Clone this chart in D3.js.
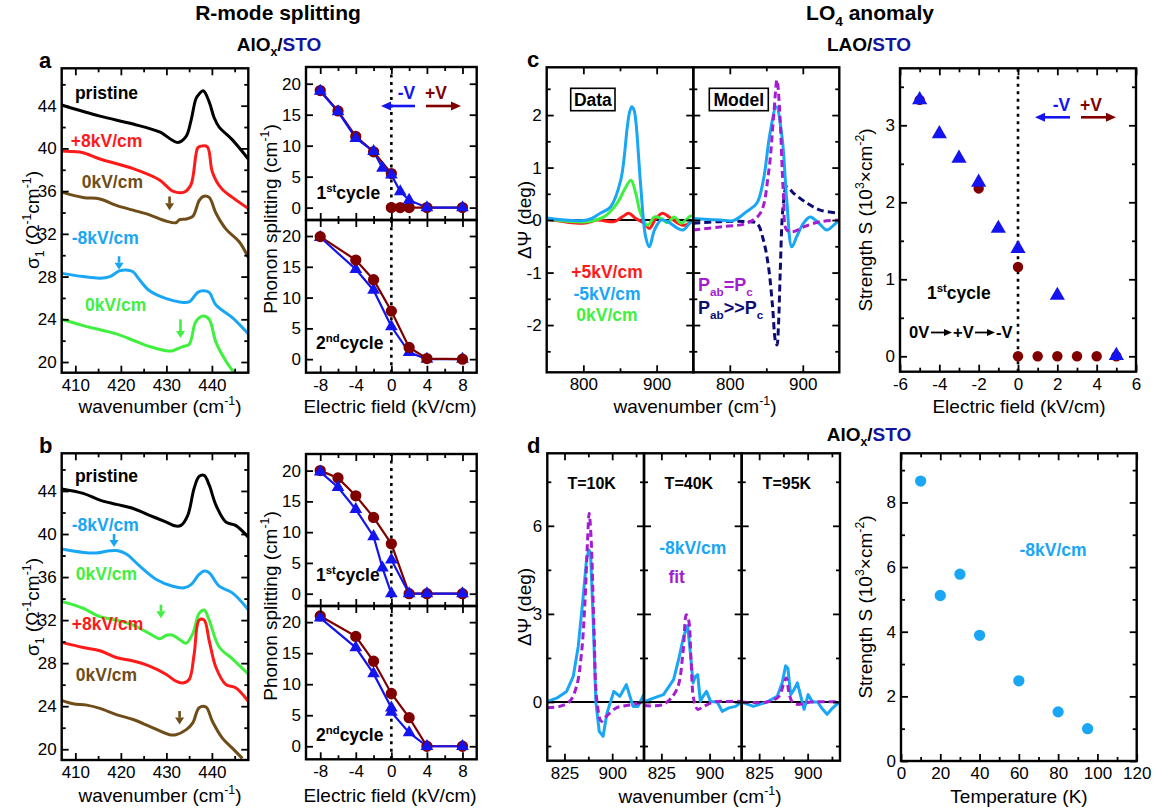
<!DOCTYPE html>
<html>
<head>
<meta charset="utf-8">
<script src="https://cdn.jsdelivr.net/npm/d3@7"></script>
<style>
  body { margin: 0; background: #fff; }
  svg { display: block; }
</style>
</head>
<body>
<script>
// ---------------- values ----------------

// panel a: sigma_1 spectra, [wavenumber, sigma]
const aPristine = [[407,44.06],[415.4,43.02],[422.7,42.28],[428.5,41.54],[432.5,40.56],[434.3,41.1],[435.4,42.58],[436.5,44.65],[437.2,45.1],[438.1,45.39],[439.4,44.36],[440.5,42.87],[441.6,41.99],[444.5,40.8],[448,39.01]];
const aPlus8 = [[407,39.76],[409.5,39.7],[411.7,39.6],[415.4,39.01],[422.7,38.11],[428.5,37.05],[431.4,36.0],[433.9,35.91],[435.4,36.6],[436.9,40.06],[437.6,40.21],[439,40.15],[440.1,37.8],[442,36.3],[444.5,35.41],[448,34.37]];
const aZeroA = [[407,35.91],[411.7,35.41],[415.4,35.26],[419,34.67],[422.7,34.22],[426.3,33.78],[430,33.19],[432.1,33.04],[432.9,33.33],[434.3,33.39],[435.8,33.63],[437.2,35.11],[438.1,35.5],[439.4,35.41],[440.9,33.93],[443.1,32.44],[446,31.26],[448,29.78]];
const aMinus8 = [[407,28.3],[411.7,28.0],[415.4,27.85],[417.6,28.0],[419.7,28.53],[421.6,28.59],[422.7,28.44],[424.1,27.7],[426.3,26.67],[430,25.93],[432.9,25.63],[435,25.63],[436.9,26.52],[438.1,26.67],[439.4,26.52],[440.9,25.33],[444.5,24.15],[448,22.63]];
const aZeroB = [[407,24.0],[411.7,23.41],[415.4,23.02],[419,22.63],[422.7,22.04],[426.3,21.45],[430,21.06],[431.4,21.06],[433.6,21.45],[435,21.65],[436.5,23.8],[438.1,24.3],[439.4,24.0],[440.9,21.84],[443.1,20.08],[444.9,19.0]];
const aNames = ["pristine", "+8kV/cm", "0kV/cm", "-8kV/cm", "0kV/cm"];
const aArrowNu = [430.7, 419.6, 433.1];

// panel b: sigma_1 spectra
const bPristine = [[407,44.19],[411.7,43.78],[415.4,43.15],[419,42.75],[422.7,42.37],[426.3,41.74],[430,41.1],[432.1,40.74],[433.2,40.8],[434.7,41.74],[436.1,44.25],[437.2,45.35],[438.3,45.44],[439.4,44.56],[440.9,42.68],[443.1,41.1],[445.2,40.8],[448,39.7]];
const bMinus8 = [[407,38.6],[411.7,38.29],[414.6,38.23],[417.6,38.45],[419.4,38.45],[421.2,38.14],[424.1,37.04],[427.8,35.78],[431.4,35.15],[433.9,35.0],[435.4,35.3],[437.2,36.25],[438.3,36.56],[439.4,36.4],[441.6,35.15],[444.5,34.53],[448,32.96]];
const bZeroA = [[407,33.74],[411.7,33.1],[415.4,32.32],[419,32.0],[422.7,31.53],[426.3,30.75],[428.5,30.27],[430,30.59],[431.4,30.59],[433.2,30.1],[434.3,29.85],[435.8,30.75],[437.2,32.63],[438.3,32.94],[439.4,32.0],[441.6,29.5],[444.5,28.4],[448,26.99]];
const bPlus8 = [[407,29.93],[411.7,29.46],[415.4,29.15],[419,28.52],[422.7,28.2],[426.3,27.73],[430,26.95],[432.1,26.32],[433.6,26.16],[435,26.48],[436.1,28.83],[437.2,32.0],[438.3,32.0],[439.4,30.1],[440.9,27.6],[443.1,26.0],[445.2,25.72],[448,24.46]];
const bZeroB = [[407,24.54],[409.5,24.23],[412.5,24.1],[415.4,23.8],[419,23.22],[422.7,22.76],[426.3,22.13],[430.7,21.35],[432.1,21.35],[434.3,21.8],[435.8,22.45],[437.2,23.86],[438.7,23.92],[440.1,22.6],[442.3,21.03],[444.5,20.1],[446.7,19.15]];
const bNames = ["pristine", "-8kV/cm", "0kV/cm", "+8kV/cm", "0kV/cm"];
const bArrowNu = [418.5, 428.8, 432.9];

// phonon splitting vs field (kV/cm, cm-1)
const aR1Field = [-8,-6,-4,-2,-1,0,1,2,4,8];
const aR1Minus = [18.8,15.5,11.2,9.1,6.4,5.3,2.6,1.2,0,0];
const aR1PlusFieldA = [0,1,2,4,8];
const aR1PlusA = [0,0,0,0,0];
const aR1PlusFieldB = [-8,-6,-4,-2,0];
const aR1PlusB = [18.9,15.6,11.5,9.0,5.5];
const aR2Field = [-8,-4,-2,0,2,4,8];
const aR2Plus = [19.9,16.1,12.9,7.8,1.9,0.1,0];
const aR2Minus = [19.8,14.6,11.2,5.3,1.1,0,0];

const bR1PlusField = [-8,-6,-4,-2,0,2,4,8];
const bR1Plus = [20,18.8,15.9,12.4,8.1,0,0,0];
const bR1MinusFieldA = [-8,-6,-4,-2,-1,0];
const bR1MinusA = [19.8,17.3,13.7,9.3,4.2,0];
const bR1MinusFieldB = [0,2,4,8];
const bR1MinusB = [5.5,0,0,0];
const bR2Field = [-8,-4,-2,0,2,4,8];
const bR2Plus = [21,17.7,13.7,8.5,4.6,0,0];
const bR2MinusField = [-8,-4,-2,0,0,2,4,8];
const bR2Minus = [20.7,15.9,11.7,6.2,5.5,2.2,0,0];

// panel c: delta Psi spectra (deg)
const cDataPlus5 = [[750,0.02],[800,-0.06],[819,0],[842,-0.03],[853,0.06],[862,0.13],[871.5,0.03],[883,-0.06],[890,-0.16],[899,0.03],[908,0.13],[917,0.06],[929,-0.06],[938,-0.1],[950,0]];
const cDataMinus5 = [[750,0.04],[805,0],[823,0.13],[837,0.25],[851,0.76],[860,1.78],[863,2.05],[866,2.16],[869,2.1],[871.5,1.9],[878,0.7],[885,-0.32],[890,-0.51],[897,-0.19],[906,0],[915,-0.03],[929,-0.16],[936,-0.19],[945,-0.06],[950,0]];
const cDataZero = [[750,0.02],[805,-0.03],[828,0.06],[846,0.32],[858,0.63],[865,0.76],[871.5,0.51],[878,0.13],[887.6,-0.1],[897,0.06],[906,0.03],[915,-0.05],[924,0.06],[933.5,-0.06],[947,0.08],[950,0.05]];
const cModelMeas = [[750,0.03],[786.7,0],[805,-0.01],[823,0.16],[837,0.32],[846,0.76],[855,1.65],[863.7,2.16],[871.5,1.59],[878,0.38],[885,-0.51],[891.5,-0.32],[901,-0.06],[910,0.06],[922,-0.06],[933,-0.19],[942,-0.1],[950,0]];
const cModelEqual = [[750,-0.19],[786.7,-0.13],[823,-0.06],[841.7,0.13],[853,0.89],[860,1.97],[864.6,2.67],[868,2.16],[873.7,0.44],[878,-0.19],[887.5,-0.22],[901,-0.13],[924,-0.03],[950,0]];
const cModelBig = [[750,-0.06],[786.7,-0.03],[823,-0.03],[837,-0.06],[846,-0.38],[853,-0.89],[858.6,-1.65],[862.3,-2.29],[864.6,-2.38],[866.8,-1.97],[869,-1.02],[873,0.25],[878,0.63],[887.5,0.51],[906,0.32],[924,0.19],[950,0.13]];

// panel c: oscillator strength vs field (10^3 cm-2)
const cFieldTri = [-5,-4,-3,-2,-1,0,2,5];
const cStrengthTri = [3.33,2.89,2.57,2.26,1.66,1.40,0.79,0.01];
const cFieldCirc = [-5,-2,0,0,1,2,3,4,5];
const cStrengthCirc = [3.33,2.18,1.16,0,0,0,0,0,0];

// panel d: delta Psi at three temperatures
const dTempNames = ["T=10K", "T=40K", "T=95K"];
const d10Data = [[798,0.02],[812.7,0.13],[828.3,0.36],[838.8,0.87],[846.6,1.89],[854.4,3.59],[859.6,4.84],[863.3,5.18],[866,5.07],[870.1,2.8],[874.3,0],[879.6,-1.0],[885.7,-1.17],[891.9,-0.37],[902.6,0.36],[911.9,0.19],[922.2,0.59],[932.8,-0.15],[940.6,-0.15],[949.6,0.25]];
const d10Fit = [[798,-0.2],[817.6,-0.15],[833.2,0.02],[844,0.53],[851.8,1.67],[857.1,3.37],[861.3,5.52],[863.8,6.43],[867,5.52],[871.3,2.57],[876.2,0],[883.1,-0.66],[890.9,-0.49],[906.6,-0.2],[927.6,-0.1],[949.6,0]];
const d40Data = [[798,0],[812.7,0.13],[828.3,0.25],[844,0.76],[851.8,1.44],[859.6,2.23],[865.9,2.6],[870.1,1.67],[874.3,0.65],[877.9,0.87],[881.5,0.93],[885.7,0.02],[889.9,0.19],[895.2,0.36],[901.5,0.02],[911.9,0],[919.7,-0.32],[930,-0.2],[940.6,-0.15],[949.6,0]];
const d40Fit = [[798,-0.12],[828.3,-0.08],[848.9,0.42],[858.6,1.67],[863.8,2.97],[867.4,2.8],[871.2,1.44],[875.3,0.1],[881.5,-0.25],[890.9,-0.15],[906.6,0],[927.6,0.02],[949.6,0.02]];
const d95Data = [[798,0],[816.2,-0.15],[837.1,0],[852.8,0.19],[860.6,0.65],[865.9,1.23],[869.4,1.15],[873.7,0.25],[878.9,0.42],[884.1,0.65],[889.4,0.19],[894.5,-0.25],[900.7,0.25],[907.5,0],[915.4,0],[923.2,-0.25],[930,-0.42],[938.8,-0.2],[949.4,0]];
const d95Fit = [[798,0],[837.1,0],[855.4,0.19],[863.2,0.65],[866.9,0.82],[871.2,0.3],[876.2,0],[884.1,-0.08],[905.6,0],[949.6,0]];

// panel d: strength vs temperature
const dTemp = [10,20,30,40,60,80,95];
const dStrength = [8.66,5.12,5.78,3.89,2.48,1.52,1.0];

// tick values
const nuTicks = [410,420,430,440], nuMinor = [415,425,435,445];
const sigTicks = [20,24,28,32,36,40,44], sigMinor = [22,26,30,34,38,42,46];
const fieldTicks = [-8,-4,0,4,8], fieldMinor = [-6,-2,2,6];
const splitTicks = [0,5,10,15,20];
const cNuTicks = [800,900], cNuMinor = [850];
const cPsiTicks = [-2,-1,0,1,2], cPsiMinor = [-2.5,-1.5,-0.5,0.5,1.5,2.5];
const cFieldTicks = [-6,-4,-2,0,2,4,6], cFieldMinor = [-5,-3,-1,1,3,5];
const cSTicks = [0,1,2,3], cSMinor = [0.5,1.5,2.5,3.5];
const dNuTicks = [825,900], dNuMinor = [862.5,937.5];
const dPsiTicks = [0,3,6], dPsiMinor = [-1.5,1.5,4.5,7.5];
const tTicks = [0,20,40,60,80,100,120], tMinor = [10,30,50,70,90,110];
const dSTicks = [0,2,4,6,8], dSMinor = [1,3,5,7,9];

// ---------------- drawing ----------------
const FONT = '"Liberation Sans", Arial, Helvetica, sans-serif';
const BLACK = "#000", RED = "#ff1a1a", BROWN = "#6e4d18", SKY = "#19a6f5", GREEN = "#3ff03f";
const BLUE = "#1414ee", MAROON = "#800000", PURPLE = "#a41ecf", NAVY = "#0c0c74", STO = "#1414a0";

const svg = d3.select("body").append("svg").attr("width", 1159).attr("height", 809);

let clipCount = 0;
function makeFrame(o) {
  const x = d3.scaleLinear().domain(o.xd).range([o.l, o.r]);
  const y = d3.scaleLinear().domain(o.yd).range([o.b, o.t]);
  const id = "clip" + (clipCount++);
  svg.append("clipPath").attr("id", id).append("rect")
    .attr("x", o.l).attr("y", o.t).attr("width", o.r - o.l).attr("height", o.b - o.t);
  const plot = svg.append("g").attr("clip-path", "url(#" + id + ")");
  const marks = svg.append("g");
  const axes = svg.append("g");
  const fmt = d => String(d);
  const none = () => "";
  function put(axis, tr) {
    const g = axes.append("g").attr("transform", tr).call(axis);
    g.select(".domain").remove();
    g.selectAll(".tick line").attr("stroke", "#000").attr("stroke-width", 1.8);
    g.selectAll(".tick text").attr("fill", "#000");
    g.attr("font-family", FONT).attr("font-size", 17);
  }
  const sides = [
    [d3.axisBottom, x, "translate(0," + o.b + ")", o.xMaj, o.xMin, o.xLab !== false, 6],
    [d3.axisTop, x, "translate(0," + o.t + ")", o.xMaj, o.xMin, false, 0],
    [d3.axisLeft, y, "translate(" + o.l + ",0)", o.yMaj, o.yMin, o.yLab !== false, 5],
    [d3.axisRight, y, "translate(" + o.r + ",0)", o.yMaj, o.yMin, false, 0]
  ];
  sides.forEach(([fn, sc, tr, maj, min, lab, pad]) => {
    put(fn(sc).tickValues(maj).tickSize(-7).tickPadding(pad).tickFormat(lab ? fmt : none), tr);
    if (min && min.length) put(fn(sc).tickValues(min).tickSize(-4).tickFormat(none), tr);
  });
  svg.append("rect").attr("x", o.l).attr("y", o.t).attr("width", o.r - o.l).attr("height", o.b - o.t)
    .attr("fill", "none").attr("stroke", "#000").attr("stroke-width", 2.4);
  return { x, y, plot, marks };
}

function curve(fr, data, color, width, dash, smooth) {
  const line = d3.line().x(d => fr.x(d[0])).y(d => fr.y(d[1]));
  if (smooth) line.curve(d3.curveCatmullRom.alpha(0.5));
  fr.plot.append("path").datum(data).attr("d", line)
    .attr("fill", "none").attr("stroke", color).attr("stroke-width", width)
    .attr("stroke-dasharray", dash || null).attr("stroke-linejoin", "round");
}

function series(fr, xs, ys, color, shape, size, withLine) {
  const pts = xs.map((v, i) => [v, ys[i]]);
  if (withLine) {
    fr.plot.append("path").datum(pts)
      .attr("d", d3.line().x(d => fr.x(d[0])).y(d => fr.y(d[1])))
      .attr("fill", "none").attr("stroke", color).attr("stroke-width", 2.2);
  }
  const sym = d3.symbol().type(shape === "tri" ? d3.symbolTriangle : d3.symbolCircle).size(size);
  fr.marks.selectAll(null).data(pts).enter().append("path")
    .attr("d", sym)
    .attr("transform", d => "translate(" + fr.x(d[0]) + "," + fr.y(d[1]) + ")")
    .attr("fill", color);
}

function hline(fr, v, xd) {
  fr.plot.append("line").attr("x1", fr.x(xd[0])).attr("x2", fr.x(xd[1]))
    .attr("y1", fr.y(v)).attr("y2", fr.y(v)).attr("stroke", "#000").attr("stroke-width", 2);
}

function vdots(fr, v, yd) {
  fr.plot.append("line").attr("x1", fr.x(v)).attr("x2", fr.x(v))
    .attr("y1", fr.y(yd[0])).attr("y2", fr.y(yd[1]))
    .attr("stroke", "#000").attr("stroke-width", 2.6).attr("stroke-dasharray", "3,4.5");
}

function arrow(x1, y1, x2, y2, color, w, hl, hw) {
  const dx = x2 - x1, dy = y2 - y1, L = Math.hypot(dx, dy), ux = dx / L, uy = dy / L;
  const bx = x2 - ux * hl, by = y2 - uy * hl;
  svg.append("line").attr("x1", x1).attr("y1", y1).attr("x2", bx).attr("y2", by)
    .attr("stroke", color).attr("stroke-width", w);
  svg.append("path")
    .attr("d", "M" + x2 + "," + y2 + "L" + (bx - uy * hw / 2) + "," + (by + ux * hw / 2) +
      "L" + (bx + uy * hw / 2) + "," + (by - ux * hw / 2) + "Z")
    .attr("fill", color);
}

function text(x, y, parts, o) {
  o = o || {};
  const size = o.size || 17;
  const t = svg.append("text").attr("x", x).attr("y", y)
    .attr("font-family", FONT).attr("font-size", size)
    .attr("font-weight", o.bold ? "bold" : "normal")
    .attr("fill", o.color || "#000").attr("text-anchor", o.anchor || "start");
  if (o.rotate) t.attr("transform", "rotate(-90," + x + "," + y + ")");
  if (typeof parts === "string") { t.text(parts); return t; }
  let cur = 0;
  parts.forEach(p => {
    const kind = p[1];
    const off = kind === "sup" ? -0.42 * size : kind === "sub" ? 0.28 * size : 0;
    t.append("tspan").text(p[0]).attr("dy", off - cur)
      .attr("font-size", kind ? size * 0.65 : size)
      .attr("fill", p[2] || null);
    cur = off;
  });
  return t;
}

// ---------- titles ----------
text(278, 20, "R-mode splitting", { bold: true, size: 21, anchor: "middle" });
text(870, 20, [["LO"], ["4", "sub"], [" anomaly"]], { bold: true, size: 21, anchor: "middle" });
text(279, 51, [["AlO"], ["x", "sub"], ["/"], ["STO", null, STO]], { bold: true, size: 19, anchor: "middle" });
text(869, 51, [["LAO/"], ["STO", null, STO]], { bold: true, size: 19, anchor: "middle" });
text(869, 441, [["AlO"], ["x", "sub"], ["/"], ["STO", null, STO]], { bold: true, size: 19, anchor: "middle" });
text(39, 68, "a", { bold: true, size: 22 });
text(39, 453, "b", { bold: true, size: 22 });
text(527, 67, "c", { bold: true, size: 22 });
text(527, 453, "d", { bold: true, size: 22 });

// ---------- panels a and b: spectra ----------
const specColorsA = [BLACK, RED, BROWN, SKY, GREEN];
const specColorsB = [BLACK, SKY, GREEN, RED, BROWN];

function spectraPanel(top, bottom, curves, colors, names, labelPos, arrows) {
  const fr = makeFrame({ l: 61.7, r: 248.3, t: top, b: bottom, xd: [407, 448], yd: [19, 47.5],
    xMaj: nuTicks, xMin: nuMinor, yMaj: sigTicks, yMin: sigMinor });
  curves.forEach((c, i) => curve(fr, c, colors[i], 3, null, true));
  names.forEach((n, i) => text(fr.x(labelPos[i][0]), fr.y(labelPos[i][1]) + 6, n,
    { bold: true, size: 17.5, color: colors[i] }));
  arrows.forEach(a => arrow(fr.x(a[0]), fr.y(a[1]), fr.x(a[0]), fr.y(a[2]), a[3], 2.6, 7, 9));
  return fr;
}

spectraPanel(68.3, 372.7, [aPristine, aPlus8, aZeroA, aMinus8, aZeroB], specColorsA, aNames,
  [[409.9, 45.19], [409.0, 40.65], [411.4, 36.9], [409.2, 31.6], [412.1, 25.3]],
  [[aArrowNu[0], 35.5, 34.2, BROWN], [aArrowNu[1], 29.9, 28.65, SKY], [aArrowNu[2], 24.0, 22.24, GREEN]]);

spectraPanel(453.3, 760, [bPristine, bMinus8, bZeroA, bPlus8, bZeroB], specColorsB, bNames,
  [[409.9, 45.35], [409.2, 40.86], [410.1, 36.25], [409.2, 31.64], [410.1, 26.9]],
  [[bArrowNu[0], 40.0, 38.8, SKY], [bArrowNu[1], 33.43, 32.17, GREEN], [bArrowNu[2], 23.55, 22.29, BROWN]]);

text(160, 413, [["wavenumber (cm"], ["-1", "sup"], [")"]], { size: 19, anchor: "middle" });
text(160, 802, [["wavenumber (cm"], ["-1", "sup"], [")"]], { size: 19, anchor: "middle" });
text(39, 220, [["σ"], ["1", "sub"], [" (Ω"], ["-1", "sup"], ["cm"], ["-1", "sup"], [")"]], { size: 19, anchor: "middle", rotate: true });
text(39, 607, [["σ"], ["1", "sub"], [" (Ω"], ["-1", "sup"], ["cm"], ["-1", "sup"], [")"]], { size: 19, anchor: "middle", rotate: true });

// ---------- panels a and b: splitting ----------
function splitFrame(t, b, yd, xLab) {
  return makeFrame({ l: 306, r: 476.7, t: t, b: b, xd: [-9.6, 9.6], yd: yd,
    xMaj: fieldTicks, xMin: fieldMinor, yMaj: splitTicks, xLab: xLab });
}
const aU = splitFrame(67, 220, [-2, 22.7], false);
vdots(aU, 0, [-2, 22.7]);
series(aU, aR1PlusFieldA, aR1PlusA, MAROON, "circ", 100, true);
series(aU, aR1PlusFieldB, aR1PlusB, MAROON, "circ", 100, true);
series(aU, aR1Field, aR1Minus, BLUE, "tri", 70, true);

const aD = splitFrame(220, 372.7, [-2.2, 22.6], true);
vdots(aD, 0, [-2.2, 22.6]);
series(aD, aR2Field, aR2Minus, BLUE, "tri", 70, true);
series(aD, aR2Field, aR2Plus, MAROON, "circ", 100, true);

const bU = splitFrame(454, 606, [-2, 22.7], false);
vdots(bU, 0, [-2, 22.7]);
series(bU, bR1PlusField, bR1Plus, MAROON, "circ", 100, true);
series(bU, bR1MinusFieldA, bR1MinusA, BLUE, "tri", 70, true);
series(bU, bR1MinusFieldB, bR1MinusB, BLUE, "tri", 70, true);

const bD = splitFrame(606, 759.3, [-2.1, 22.6], true);
vdots(bD, 0, [-2.1, 22.6]);
series(bD, bR2Field, bR2Plus, MAROON, "circ", 100, true);
series(bD, bR2MinusField, bR2Minus, BLUE, "tri", 70, true);

text(406.5, 99, "-V", { bold: true, size: 17.5, color: BLUE, anchor: "middle" });
text(436, 99, "+V", { bold: true, size: 17.5, color: MAROON, anchor: "middle" });
arrow(415, 106, 381, 106, BLUE, 2.6, 10, 9);
arrow(426, 106, 461, 106, MAROON, 2.6, 10, 9);
const cyc1 = [["1"], ["st", "sup"], ["cycle"]];
const cyc2 = [["2"], ["nd", "sup"], ["cycle"]];
text(316.5, 199, cyc1, { bold: true, size: 17.5 });
text(316, 349, cyc2, { bold: true, size: 17.5 });
text(316, 581, cyc1, { bold: true, size: 17.5 });
text(316, 741, cyc2, { bold: true, size: 17.5 });
text(390, 413, "Electric field (kV/cm)", { size: 19, anchor: "middle" });
text(390, 802, "Electric field (kV/cm)", { size: 19, anchor: "middle" });
text(277, 219, [["Phonon splitting (cm"], ["-1", "sup"], [")"]], { size: 19, anchor: "middle", rotate: true });
text(277, 606, [["Phonon splitting (cm"], ["-1", "sup"], [")"]], { size: 19, anchor: "middle", rotate: true });

// ---------- panel c ----------
function cFrame(l, r, yLab) {
  return makeFrame({ l: l, r: r, t: 67.3, b: 372.3, xd: [750, 950], yd: [-2.9, 2.91],
    xMaj: cNuTicks, xMin: cNuMinor, yMaj: cPsiTicks, yMin: cPsiMinor, yLab: yLab });
}
const cL = cFrame(546.7, 693.3, true);
hline(cL, 0, [750, 950]);
curve(cL, cDataPlus5, RED, 3, null, true);
curve(cL, cDataZero, GREEN, 3, null, true);
curve(cL, cDataMinus5, SKY, 3, null, true);

const cR = cFrame(693.3, 839.3, false);
curve(cR, cModelBig, NAVY, 3, "7,4", true);
curve(cR, cModelMeas, SKY, 3, null, true);
curve(cR, cModelEqual, PURPLE, 3, "7,4", true);

[["Data", 570.7, 44.3], ["Model", 709.3, 59]].forEach(b => {
  svg.append("rect").attr("x", b[1]).attr("y", 88.3).attr("width", b[2]).attr("height", 22.4)
    .attr("fill", "#fff").attr("stroke", "#000").attr("stroke-width", 1.6);
  text(b[1] + b[2] / 2, 105.5, b[0], { bold: true, size: 17.5, anchor: "middle" });
});
text(607, 278, "+5kV/cm", { bold: true, size: 17.5, color: RED, anchor: "middle" });
text(607, 299.5, "-5kV/cm", { bold: true, size: 17.5, color: SKY, anchor: "middle" });
text(607, 320.5, "0kV/cm", { bold: true, size: 17.5, color: GREEN, anchor: "middle" });
text(698, 291, [["P"], ["ab", "sub"], ["="], ["P"], ["c", "sub"]], { bold: true, size: 18, color: PURPLE });
text(698, 314, [["P"], ["ab", "sub"], [">>"], ["P"], ["c", "sub"]], { bold: true, size: 18, color: NAVY });
text(695, 413, [["wavenumber (cm"], ["-1", "sup"], [")"]], { size: 19, anchor: "middle" });
text(531, 220, "ΔΨ (deg)", { size: 19, anchor: "middle", rotate: true });

const cS = makeFrame({ l: 900, r: 1136, t: 68.3, b: 371.7, xd: [-6, 6], yd: [-0.2, 3.74],
  xMaj: cFieldTicks, xMin: cFieldMinor, yMaj: cSTicks, yMin: cSMinor });
vdots(cS, 0, [-0.2, 3.74]);
series(cS, cFieldCirc, cStrengthCirc, MAROON, "circ", 85, false);
series(cS, cFieldTri, cStrengthTri, BLUE, "tri", 100, false);
text(1061.5, 111, "-V", { bold: true, size: 17.5, color: BLUE, anchor: "middle" });
text(1091, 111, "+V", { bold: true, size: 17.5, color: MAROON, anchor: "middle" });
arrow(1070, 117.3, 1035, 117.3, BLUE, 2.6, 10, 9);
arrow(1081, 117.3, 1116, 117.3, MAROON, 2.6, 10, 9);
text(927, 299, cyc1, { bold: true, size: 17.5 });
// sequence "0V -> +V -> -V" with drawn arrows
text(909, 338, "0V", { bold: true, size: 16.5 });
arrow(931, 332.5, 952, 332.5, BLACK, 1.8, 8, 7);
text(953, 338, "+V", { bold: true, size: 16.5 });
arrow(975, 332.5, 995, 332.5, BLACK, 1.8, 8, 7);
text(996, 338, "-V", { bold: true, size: 16.5 });
text(1019, 413, "Electric field (kV/cm)", { size: 19, anchor: "middle" });
text(872, 220, [["Strength S (10"], ["3", "sup"], ["×cm"], ["-2", "sup"], [")"]], { size: 19, anchor: "middle", rotate: true });

// ---------- panel d ----------
const dEdges = [547.3, 644, 741.7, 840];
const dSets = [[d10Data, d10Fit], [d40Data, d40Fit], [d95Data, d95Fit]];
dSets.forEach((s, i) => {
  const fr = makeFrame({ l: dEdges[i], r: dEdges[i + 1], t: 453.3, b: 760.7, xd: [798, 950], yd: [-2, 8.47],
    xMaj: dNuTicks, xMin: dNuMinor, yMaj: dPsiTicks, yMin: dPsiMinor, yLab: i === 0 });
  hline(fr, 0, [798, 950]);
  curve(fr, s[0], SKY, 3, null, false);
  curve(fr, s[1], PURPLE, 3, "7,4", true);
  text((dEdges[i] + dEdges[i + 1]) / 2 - 4, 489, dTempNames[i], { bold: true, size: 16, anchor: "middle" });
});
text(692.7, 554, "-8kV/cm", { bold: true, size: 17.5, color: SKY, anchor: "middle" });
text(676.7, 583, "fit", { bold: true, size: 17.5, color: PURPLE, anchor: "middle" });
text(700, 803, [["wavenumber (cm"], ["-1", "sup"], [")"]], { size: 19, anchor: "middle" });
text(531, 607, "ΔΨ (deg)", { size: 19, anchor: "middle", rotate: true });

const dS = makeFrame({ l: 901, r: 1136.7, t: 453.3, b: 761, xd: [0, 120], yd: [0, 9.52],
  xMaj: tTicks, xMin: tMinor, yMaj: dSTicks, yMin: dSMinor });
series(dS, dTemp, dStrength, SKY, "circ", 100, false);
text(1053, 556, "-8kV/cm", { bold: true, size: 17.5, color: SKY, anchor: "middle" });
text(1019, 803, "Temperature (K)", { size: 19, anchor: "middle" });
text(872, 607, [["Strength S (10"], ["3", "sup"], ["×cm"], ["-2", "sup"], [")"]], { size: 19, anchor: "middle", rotate: true });
</script>
</body>
</html>
